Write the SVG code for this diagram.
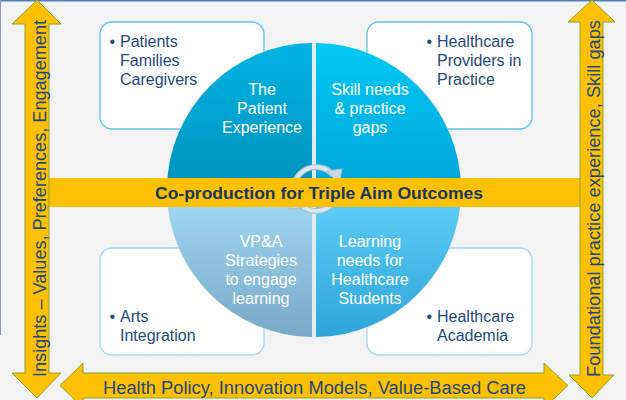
<svg xmlns="http://www.w3.org/2000/svg" width="626" height="400" viewBox="0 0 626 400">
<defs>
<style>
.arrow{fill:#ffc000;stroke:#8aa536;stroke-width:1}
.box{fill:#ffffff;stroke-width:1.3}
.btxt{font-family:"Liberation Sans",Arial,sans-serif;font-size:16px;fill:#1f497d}
.qtxt{font-family:"Liberation Sans",Arial,sans-serif;font-size:16px;fill:#ffffff;text-anchor:middle}
.atxt{font-family:"Liberation Sans",Arial,sans-serif;font-size:18px;fill:#1f497d}
.ctxt{font-family:"Liberation Sans",Arial,sans-serif;font-size:17px;font-weight:bold;fill:#17375e}
</style>
<linearGradient id="gTL" gradientUnits="userSpaceOnUse" x1="0" y1="43" x2="0" y2="188">
<stop offset="0" stop-color="#00b4e2"/><stop offset="1" stop-color="#0092bd"/>
</linearGradient>
<linearGradient id="gTR" gradientUnits="userSpaceOnUse" x1="0" y1="43" x2="0" y2="188">
<stop offset="0" stop-color="#00c8f5"/><stop offset="1" stop-color="#00a6d8"/>
</linearGradient>
<linearGradient id="gBL" gradientUnits="userSpaceOnUse" x1="0" y1="192" x2="0" y2="337">
<stop offset="0" stop-color="#a2daf3"/><stop offset="1" stop-color="#78a9c6"/>
</linearGradient>
<linearGradient id="gBR" gradientUnits="userSpaceOnUse" x1="0" y1="192" x2="0" y2="337">
<stop offset="0" stop-color="#5fd0f8"/><stop offset="1" stop-color="#2ea5da"/>
</linearGradient>
</defs>
<rect x="0" y="0" width="626" height="400" fill="#f3f3f3"/>
<line x1="0" y1="0.75" x2="626" y2="0.75" stroke="#4f81bd" stroke-width="1.5"/>
<line x1="0.5" y1="0" x2="0.5" y2="335" stroke="#8a9bb0" stroke-width="1"/>

<g id="box-patients">
<rect class="box" x="100" y="22" width="164" height="107" rx="12" stroke="#5ec3ea"/>
<text class="btxt" x="109.5" y="47">•</text>
<text class="btxt" x="120" y="47">Patients</text>
<text class="btxt" x="120" y="66">Families</text>
<text class="btxt" x="120" y="85">Caregivers</text>
</g>
<g id="box-providers">
<rect class="box" x="367" y="22" width="165" height="107" rx="12" stroke="#5ec3ea"/>
<text class="btxt" x="426.5" y="47">•</text>
<text class="btxt" x="437" y="47">Healthcare</text>
<text class="btxt" x="437" y="66">Providers in</text>
<text class="btxt" x="437" y="85">Practice</text>
</g>
<g id="box-arts">
<rect class="box" x="100" y="248" width="164" height="107" rx="12" stroke="#a8d6ee"/>
<text class="btxt" x="109.5" y="322">•</text>
<text class="btxt" x="120" y="322">Arts</text>
<text class="btxt" x="120" y="341">Integration</text>
</g>
<g id="box-academia">
<rect class="box" x="367" y="248" width="165" height="107" rx="12" stroke="#a8d6ee"/>
<text class="btxt" x="426.5" y="322">•</text>
<text class="btxt" x="437" y="322">Healthcare</text>
<text class="btxt" x="437" y="341">Academia</text>
</g>

<g id="circle">
<circle cx="314" cy="190" r="147.5" fill="#e3ecf1"/>
<g id="q-patient">
<path d="M312,188 L312,43 A147,147 0 0 0 167,188 Z" fill="url(#gTL)"/>
<text class="qtxt" x="262" y="95">The</text>
<text class="qtxt" x="262" y="114">Patient</text>
<text class="qtxt" x="262" y="133">Experience</text>
</g>
<g id="q-skill">
<path d="M316,188 L316,43 A147,147 0 0 1 461,188 Z" fill="url(#gTR)"/>
<text class="qtxt" x="370" y="95">Skill needs</text>
<text class="qtxt" x="370" y="114">&amp; practice</text>
<text class="qtxt" x="370" y="133">gaps</text>
</g>
<g id="q-vpa">
<path d="M312,192 L167,192 A147,147 0 0 0 312,337 Z" fill="url(#gBL)"/>
<text class="qtxt" x="261" y="247">VP&amp;A</text>
<text class="qtxt" x="261" y="266">Strategies</text>
<text class="qtxt" x="261" y="285">to engage</text>
<text class="qtxt" x="261" y="304">learning</text>
</g>
<g id="q-learning">
<path d="M316,192 L316,337 A147,147 0 0 0 461,192 Z" fill="url(#gBR)"/>
<text class="qtxt" x="370" y="247">Learning</text>
<text class="qtxt" x="370" y="266">needs for</text>
<text class="qtxt" x="370" y="285">Healthcare</text>
<text class="qtxt" x="370" y="304">Students</text>
</g>
</g>

<g id="cycle-icon" fill="none">
<path d="M294,189 A22,22 0 0 1 333,175" stroke="#a9c3d3" stroke-width="6"/>
<path d="M294,189 A22,22 0 0 1 333,175" stroke="#dbe8f0" stroke-width="3.5"/>
<path d="M338,189 A22,22 0 0 1 299,203" stroke="#a9c3d3" stroke-width="6"/>
<path d="M338,189 A22,22 0 0 1 299,203" stroke="#dbe8f0" stroke-width="3.5"/>
<polygon points="327,171 342,169 339,184" fill="#c6d9e5" stroke="#a9c3d3" stroke-width="1"/>
<polygon points="305,207 290,209 293,194" fill="#c6d9e5" stroke="#a9c3d3" stroke-width="1"/>
</g>

<g id="banner">
<rect x="49" y="178" width="531" height="29" fill="#ffc000"/>
<text class="ctxt" x="155" y="199" textLength="328" lengthAdjust="spacingAndGlyphs">Co-production for Triple Aim Outcomes</text>
</g>

<g id="connectors">
<g id="arrow-left">
<polygon class="arrow" points="37,0 61,24 49,24 49,373 61,373 37,398 12,373 25,373 25,24 12,24"/>
<text class="atxt" transform="translate(45.5,377) rotate(-90)" x="0" y="0" textLength="357" lengthAdjust="spacingAndGlyphs">Insights – Values, Preferences, Engagement</text>
</g>
<g id="arrow-right">
<polygon class="arrow" points="592,0 615,22 603,22 603,375 614,375 592,398 569,375 580,375 580,22 568,22"/>
<text class="atxt" transform="translate(600,377) rotate(-90)" x="0" y="0" textLength="357" lengthAdjust="spacingAndGlyphs">Foundational practice experience, Skill gaps</text>
</g>
<g id="arrow-bottom">
<polygon class="arrow" points="60,385.5 83,363 83,373 544,373 544,363 568,385.5 544,408 544,398 83,398 83,408"/>
<text class="atxt" x="103" y="394" textLength="423" lengthAdjust="spacingAndGlyphs">Health Policy, Innovation Models, Value-Based Care</text>
</g>
</g>
</svg>
